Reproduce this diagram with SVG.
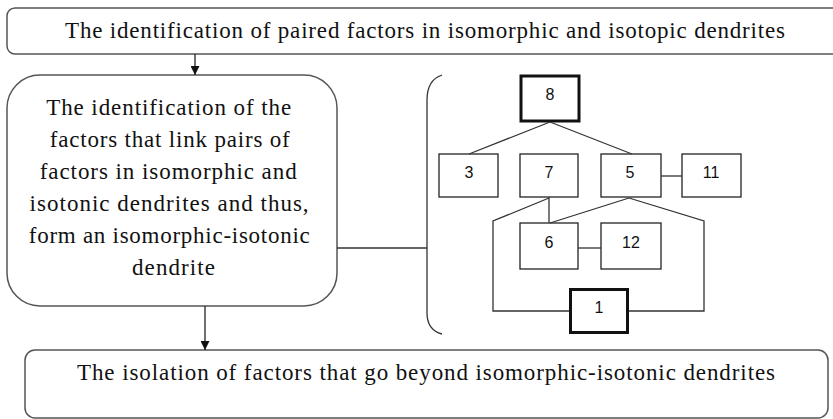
<svg xmlns="http://www.w3.org/2000/svg" width="833" height="419" viewBox="0 0 833 419">
<style>
.rb{fill:#fff;stroke:#555;stroke-width:1.5}
.sq{fill:#fff;stroke:#222;stroke-width:1.3}
.tk{fill:#fff;stroke:#111;stroke-width:3}
.st{font-family:"Liberation Serif","DejaVu Serif",serif;fill:#111;text-anchor:middle}
.nm{font-family:"Liberation Sans","DejaVu Sans",sans-serif;font-size:16px;fill:#111;text-anchor:middle}
.ln{fill:none;stroke:#333;stroke-width:1.3}
.ar{fill:none;stroke:#222;stroke-width:1.3;marker-end:url(#ah)}
</style>
<defs>
<marker id="ah" viewBox="0 0 10 10" refX="10" refY="5" markerWidth="9" markerHeight="9" markerUnits="userSpaceOnUse" orient="auto">
<path d="M0,0 L10,5 L0,10 z" fill="#111"/>
</marker>
</defs>
<rect width="833" height="419" fill="#fff"/>
<g id="top">
<rect class="rb" x="7" y="8" width="840" height="46" rx="8"/>
<text class="st" x="425" y="38" font-size="23" textLength="720">The identification of paired factors in isomorphic and isotopic dendrites</text>
</g>
<g id="middle">
<rect class="rb" x="7" y="75" width="330" height="231" rx="33"/>
<text class="st" font-size="23">
<tspan x="172" y="114.5" textLength="245">The identification of the</tspan>
<tspan x="173" y="146.5" textLength="240">factors that link pairs of</tspan>
<tspan x="171.5" y="179" textLength="257">factors in isomorphic and</tspan>
<tspan x="172.5" y="211" textLength="279">isotonic dendrites and thus,</tspan>
<tspan x="172.5" y="243" textLength="281">form an isomorphic-isotonic</tspan>
<tspan x="173.5" y="275" textLength="83">dendrite</tspan>
</text>
</g>
<g id="bottom">
<rect class="rb" x="25" y="350" width="803" height="68" rx="10"/>
<text class="st" x="426" y="380" font-size="23" textLength="698">The isolation of factors that go beyond isomorphic-isotonic dendrites</text>
</g>
<g id="bracket">
<path class="ln" d="M442,75 Q427,80 427,100 L427,313 Q427,330 442,334" stroke="#555" stroke-width="1.5"/>
</g>
<g id="n8"><rect class="tk" x="521" y="76" width="58" height="45"/><text class="nm" x="550" y="100">8</text></g>
<g id="n3"><rect class="sq" x="439" y="154" width="59" height="43"/><text class="nm" x="469" y="178">3</text></g>
<g id="n7"><rect class="sq" x="520" y="154" width="58" height="43"/><text class="nm" x="549" y="178">7</text></g>
<g id="n5"><rect class="sq" x="601" y="154" width="60" height="43"/><text class="nm" x="630" y="178">5</text></g>
<g id="n11"><rect class="sq" x="682" y="154" width="59" height="43"/><text class="nm" x="711" y="178">11</text></g>
<g id="n6"><rect class="sq" x="520" y="223" width="58" height="46"/><text class="nm" x="549" y="248">6</text></g>
<g id="n12"><rect class="sq" x="601" y="223" width="60" height="46"/><text class="nm" x="631" y="248">12</text></g>
<g id="n1"><rect class="tk" x="570.5" y="289.5" width="57" height="43"/><text class="nm" x="599" y="313">1</text></g>
<g id="connectors">
<line class="ar" x1="195" y1="54" x2="195" y2="75"/>
<line class="ar" x1="205" y1="306" x2="205" y2="350"/>
<line class="ln" x1="337" y1="248" x2="427" y2="248" stroke="#555"/>
<line class="ln" x1="550" y1="122" x2="469" y2="154"/>
<line class="ln" x1="550" y1="122" x2="632" y2="154"/>
<line class="ln" x1="661" y1="176" x2="682" y2="176"/>
<line class="ln" x1="549" y1="197" x2="549" y2="223"/>
<polyline class="ln" points="549,198 493,221 493,311 569,311"/>
<line class="ln" x1="629" y1="198" x2="550" y2="223"/>
<polyline class="ln" points="629,198 704,221 704,311 629,311"/>
<line class="ln" x1="578" y1="248" x2="601" y2="248"/>
</g>
</svg>
